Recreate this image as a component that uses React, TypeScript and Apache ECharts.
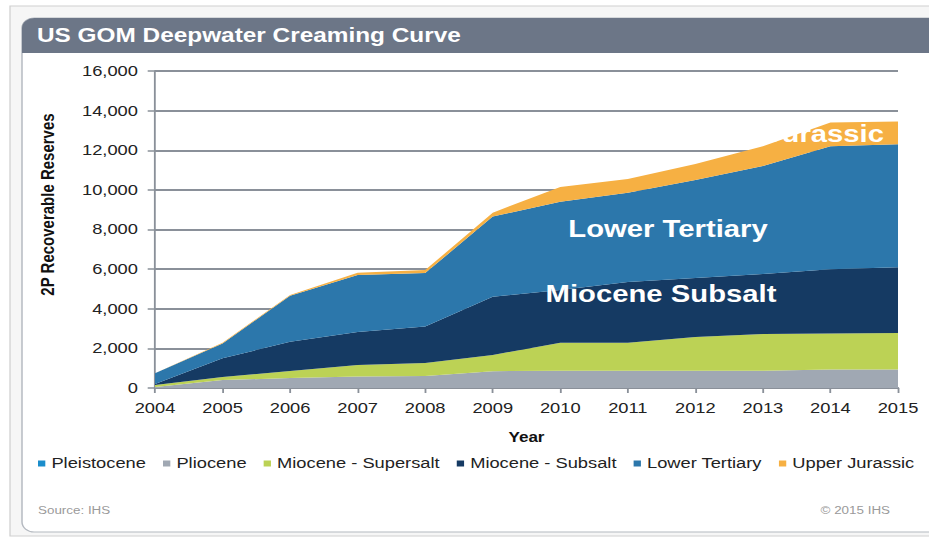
import React, { useEffect, useRef } from "react";
import * as echarts from "echarts";

const years = ["2004", "2005", "2006", "2007", "2008", "2009", "2010", "2011", "2012", "2013", "2014", "2015"];
const pleistocene = [0, 0, 0, 0, 0, 0, 0, 0, 0, 0, 0, 0];
const pliocene = [50, 400, 500, 580, 600, 850, 870, 870, 870, 870, 930, 930];
const mioceneSupersalt = [100, 150, 360, 580, 660, 820, 1410, 1410, 1700, 1850, 1820, 1850];
const mioceneSubsalt = [50, 950, 1470, 1670, 1840, 2930, 2670, 3070, 2980, 3030, 3250, 3320];
const lowerTertiary = [550, 750, 2320, 2870, 2700, 4050, 4450, 4500, 4950, 5450, 6200, 6200];
const upperJurassic = [0, 30, 50, 120, 150, 200, 750, 700, 800, 1000, 1200, 1150];

const seriesNames = ["Pleistocene", "Pliocene", "Miocene - Supersalt", "Miocene - Subsalt", "Lower Tertiary", "Upper Jurassic"];
const seriesData = [pleistocene, pliocene, mioceneSupersalt, mioceneSubsalt, lowerTertiary, upperJurassic];
const seriesColors = ["#1b8dcb", "#a0a8b3", "#bcd255", "#153a63", "#2c77ab", "#f6b043"];

const W = 762;
const H = 539;
const SX = 929 / W;
const u = (x: number) => x / SX;
const FONT = 'Arial, "Liberation Sans", sans-serif';

export default function App() {
  const ref = useRef<HTMLDivElement>(null);
  useEffect(() => {
    if (!ref.current) return;
    const chart = echarts.init(ref.current, undefined, { renderer: "svg" });
    chart.setOption({
      animation: false,
      textStyle: { fontFamily: FONT },
      grid: { left: u(155), right: W - u(898), top: 71, bottom: H - 388, containLabel: false },
      legend: {
        left: u(38),
        top: 456,
        width: 1200,
        padding: 0,
        orient: "horizontal",
        icon: "rect",
        itemWidth: 6,
        itemHeight: 6,
        itemGap: 14,
        textStyle: { fontSize: 15, color: "#222", fontFamily: FONT },
        data: seriesNames,
      },
      xAxis: {
        type: "category",
        data: years,
        boundaryGap: false,
        name: "Year",
        nameLocation: "middle",
        nameGap: 42,
        nameTextStyle: { fontSize: 14, fontWeight: "bold", color: "#111", fontFamily: FONT },
        axisLine: { lineStyle: { color: "#8a9099", width: 2 } },
        axisTick: { show: true, length: 5, lineStyle: { color: "#8a9099", width: 1.5 } },
        axisLabel: { fontSize: 15, color: "#222", margin: 13, fontFamily: FONT },
        splitLine: { show: false },
      },
      yAxis: {
        type: "value",
        min: 0,
        max: 16000,
        interval: 2000,
        name: "2P Recoverable Reserves",
        nameLocation: "middle",
        nameGap: 80,
        nameTextStyle: { fontSize: 15, fontWeight: "bold", color: "#111", fontFamily: FONT, padding: [0, 0, 0, 50] },
        axisLine: { show: true, lineStyle: { color: "#8a9099", width: 1.5 } },
        axisTick: { show: true, length: 6, lineStyle: { color: "#8a9099", width: 1.5 } },
        axisLabel: {
          fontSize: 15,
          color: "#222",
          margin: 14,
          fontFamily: FONT,
          formatter: (v: number) => v.toLocaleString("en-US"),
        },
        splitLine: { show: true, lineStyle: { color: "#8a9099", width: 2 } },
      },
      series: seriesNames.map((name, i) => ({
        name,
        type: "line",
        stack: "total",
        data: seriesData[i],
        symbol: "none",
        lineStyle: { width: 0 },
        itemStyle: { color: seriesColors[i] },
        areaStyle: { color: seriesColors[i], opacity: 1 },
        z: 2,
      })),
      graphic: [
        {
          type: "rect",
          z: -20,
          shape: { x: u(10), y: 6, width: 1200, height: 530 },
          style: { fill: "#f6f6f6", stroke: "#cfcfcf", lineWidth: 1 },
        },
        {
          type: "rect",
          z: -19,
          shape: { x: u(22), y: 18, width: 1200, height: 514, r: 10 },
          style: { fill: "#ffffff", stroke: "#b4b9c0", lineWidth: 1.2 },
        },
        {
          type: "rect",
          z: -18,
          shape: { x: u(22), y: 18, width: 1200, height: 35, r: [10, 0, 0, 0] },
          style: { fill: "#6c7687" },
        },
        {
          type: "text",
          z: 50,
          x: u(37),
          y: 35,
          style: {
            text: "US GOM Deepwater Creaming Curve",
            fill: "#ffffff",
            font: `bold 20px ${FONT}`,
            verticalAlign: "middle",
            align: "left",
          },
        },
        {
          type: "text",
          z: 50,
          x: u(668),
          y: 229,
          style: {
            text: "Lower Tertiary",
            fill: "#ffffff",
            font: `bold 24px ${FONT}`,
            verticalAlign: "middle",
            align: "center",
          },
        },
        {
          type: "text",
          z: 50,
          x: u(661),
          y: 294,
          style: {
            text: "Miocene Subsalt",
            fill: "#ffffff",
            font: `bold 24px ${FONT}`,
            verticalAlign: "middle",
            align: "center",
          },
        },
        {
          type: "text",
          z: 50,
          x: u(884),
          y: 134,
          style: {
            text: "Jurassic",
            fill: "#ffffff",
            font: `bold 24px ${FONT}`,
            verticalAlign: "middle",
            align: "right",
          },
        },
        {
          type: "text",
          z: 50,
          x: u(38),
          y: 510,
          style: {
            text: "Source: IHS",
            fill: "#9a9a9a",
            font: `11px ${FONT}`,
            verticalAlign: "middle",
            align: "left",
          },
        },
        {
          type: "text",
          z: 50,
          x: u(890),
          y: 510,
          style: {
            text: "© 2015 IHS",
            fill: "#9a9a9a",
            font: `11px ${FONT}`,
            verticalAlign: "middle",
            align: "right",
          },
        },
      ],
    });
    return () => chart.dispose();
  }, []);
  return (
    <div
      ref={ref}
      style={{
        position: "fixed",
        left: 0,
        top: 0,
        width: W,
        height: H,
        transform: `scaleX(${SX})`,
        transformOrigin: "0 0",
        background: "#ffffff",
      }}
    />
  );
}
